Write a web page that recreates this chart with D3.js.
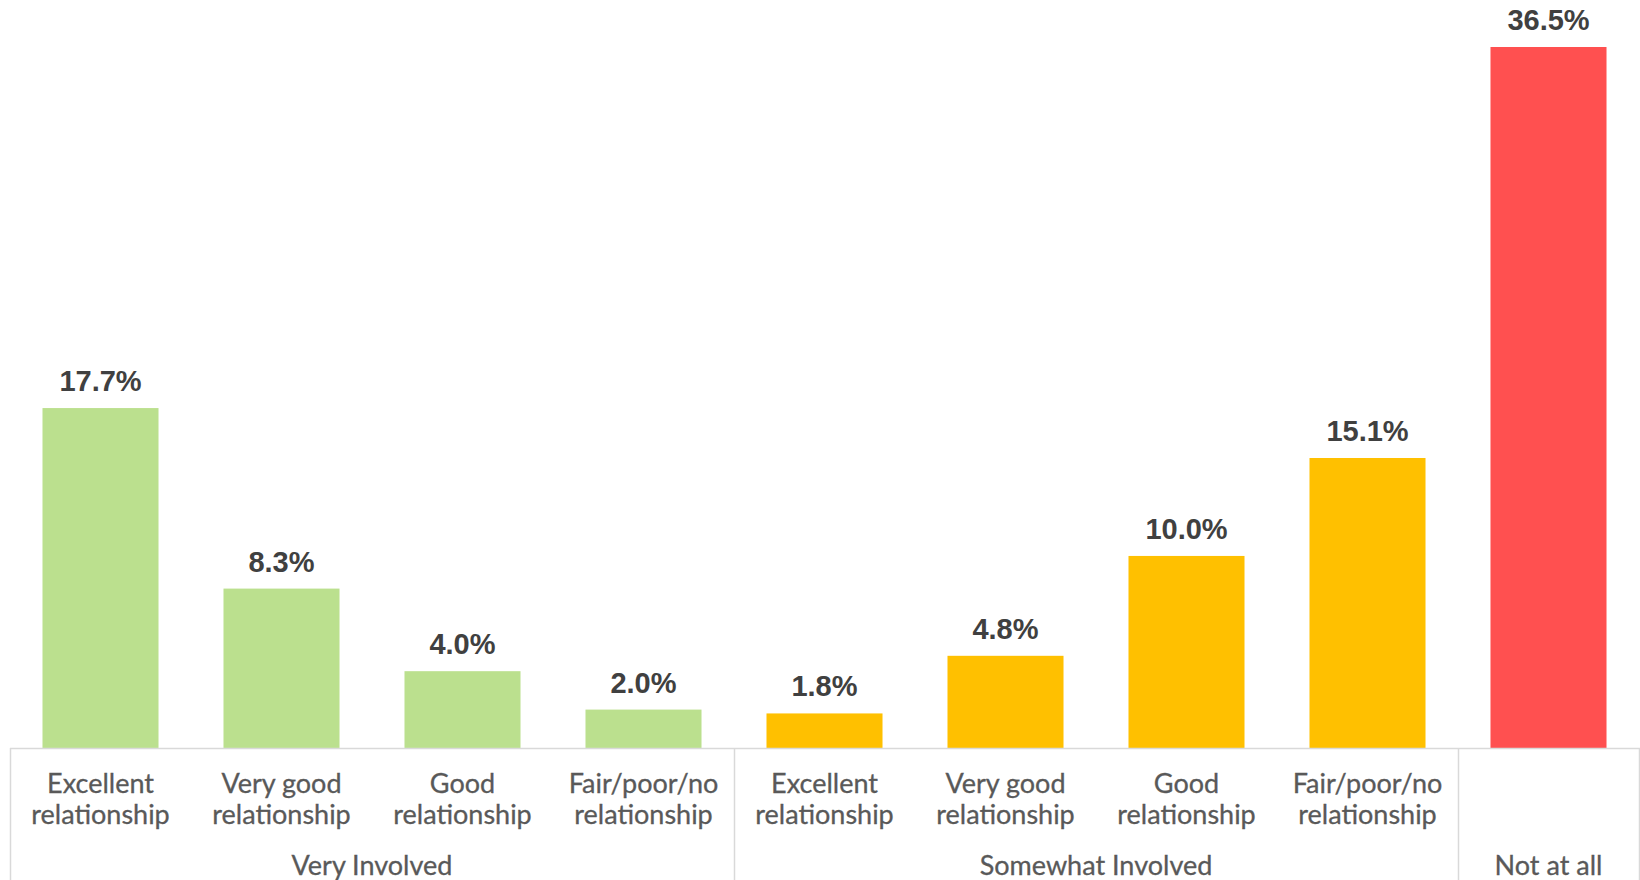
<!DOCTYPE html>
<html>
<head>
<meta charset="utf-8">
<script src="https://cdn.jsdelivr.net/npm/d3@7"></script>
<style>
  html, body { margin: 0; padding: 0; background: #fff; }
  svg { display: block; }
</style>
</head>
<body>
<script>
const width = 1640
const height = 880

// chart data
const categories = ['Excellent relationship', 'Very good relationship', 'Good relationship', 'Fair/poor/no relationship',
                    'Excellent relationship', 'Very good relationship', 'Good relationship', 'Fair/poor/no relationship',
                    '']
const values = [17.7, 8.3, 4.0, 2.0, 1.8, 4.8, 10.0, 15.1, 36.5]
const groups = ['Very Involved', 'Somewhat Involved', 'Not at all']
const group_of_bar = [0, 0, 0, 0, 1, 1, 1, 1, 2]
const group_colors = ['#BBE08E', '#FFC000', '#FF5050']

const axis_y = 748
const padding = 0.359

const svg = d3.select('body')
  .append('svg')
  .attr('width', width)
  .attr('height', height);

const x = d3.scaleBand()
  .domain(d3.range(values.length))
  .range([10, 1639])
  .paddingInner(padding)
  .paddingOuter(padding / 2);

const y = d3.scaleLinear()
  .domain([0, 36.5])
  .range([axis_y, 47]);

// bars
svg.selectAll('rect.bar')
  .data(values)
  .enter()
  .append('rect')
  .attr('class', 'bar')
  .attr('x', (d, i) => x(i))
  .attr('y', d => y(d))
  .attr('width', x.bandwidth())
  .attr('height', d => axis_y - y(d))
  .attr('fill', (d, i) => group_colors[group_of_bar[i]]);

// value labels
svg.selectAll('text.value')
  .data(values)
  .enter()
  .append('text')
  .attr('class', 'value')
  .attr('x', (d, i) => x(i) + x.bandwidth() / 2)
  .attr('y', d => y(d) - 17)
  .attr('text-anchor', 'middle')
  .attr('font-family', '"Liberation Sans", Arial, sans-serif')
  .attr('font-weight', 'bold')
  .attr('font-size', '29px')
  .attr('fill', '#404040')
  .text(d => d.toFixed(1) + '%');

// category axis lines
const half_gap = x.step() * padding / 2
const group_edges = [x.range()[0]]
groups.forEach((g, gi) => {
  const last = group_of_bar.lastIndexOf(gi)
  group_edges.push(Math.min(x(last) + x.bandwidth() + half_gap, x.range()[1]))
})

svg.append('line')
  .attr('x1', x.range()[0]).attr('x2', width)
  .attr('y1', axis_y + 0.5).attr('y2', axis_y + 0.5)
  .attr('stroke', '#D9D9D9')
  .attr('stroke-width', 1.5);

svg.selectAll('line.sep')
  .data(group_edges)
  .enter()
  .append('line')
  .attr('class', 'sep')
  .attr('x1', d => Math.round(d) + 0.5).attr('x2', d => Math.round(d) + 0.5)
  .attr('y1', axis_y).attr('y2', height)
  .attr('stroke', '#D9D9D9')
  .attr('stroke-width', 1.5);

// category labels (two lines)
const cat_text = svg.selectAll('text.cat')
  .data(categories)
  .enter()
  .append('text')
  .attr('class', 'cat')
  .attr('text-anchor', 'middle')
  .attr('font-family', 'Lato, sans-serif')
  .attr('font-size', '27px')
  .attr('fill', '#595959')
  .attr('stroke', '#595959')
  .attr('stroke-width', 0.3);

cat_text.each(function (d, i) {
  if (!d) return;
  const cut = d.lastIndexOf(' ')
  const lines = [d.slice(0, cut), d.slice(cut + 1)]
  d3.select(this).selectAll('tspan')
    .data(lines)
    .enter()
    .append('tspan')
    .attr('x', x(i) + x.bandwidth() / 2)
    .attr('y', (l, li) => 793 + li * 31)
    .text(l => l);
});

// group labels
svg.selectAll('text.group')
  .data(groups)
  .enter()
  .append('text')
  .attr('class', 'group')
  .attr('x', (d, i) => (group_edges[i] + group_edges[i + 1]) / 2)
  .attr('y', 875)
  .attr('text-anchor', 'middle')
  .attr('font-family', 'Lato, sans-serif')
  .attr('font-size', '27px')
  .attr('fill', '#595959')
  .attr('stroke', '#595959')
  .attr('stroke-width', 0.3)
  .text(d => d);
</script>
</body>
</html>
